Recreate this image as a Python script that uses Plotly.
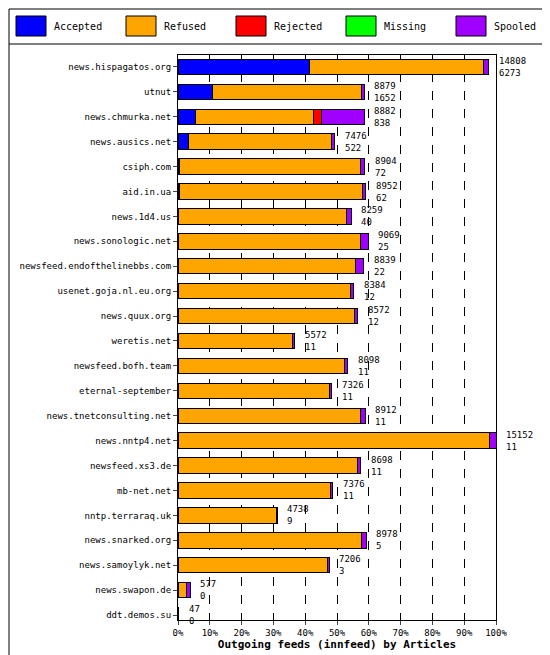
import plotly.graph_objects as go

hosts = ["news.hispagatos.org","utnut","news.chmurka.net","news.ausics.net","csiph.com","aid.in.ua",
         "news.1d4.us","news.sonologic.net","newsfeed.endofthelinebbs.com","usenet.goja.nl.eu.org",
         "news.quux.org","weretis.net","newsfeed.bofh.team","eternal-september","news.tnetconsulting.net",
         "news.nntp4.net","newsfeed.xs3.de","mb-net.net","nntp.terraraq.uk","news.snarked.org",
         "news.samoylyk.net","news.swapon.de","ddt.demos.su"]
offered  = [14808,8879,8882,7476,8904,8952,8259,9069,8839,8384,8572,5572,8098,7326,8912,15152,8698,7376,4738,8978,7206,577,47]
accepted = [6273,1652,838,522,72,62,40,25,22,12,12,11,11,11,11,11,11,11,9,5,3,0,0]
rejected = [0,0,380,0,0,0,0,0,0,0,0,0,0,0,0,0,0,0,0,0,0,0,0]
missing  = [0]*23
spooled  = [250,150,2030,150,230,150,230,380,380,150,150,100,150,100,230,330,150,100,60,250,100,150,0]
refused  = [o-a-r-m-s for o,a,r,m,s in zip(offered,accepted,rejected,missing,spooled)]
series_names = ["Accepted","Refused","Rejected","Missing","Spooled"]
series_colors = ["#0000ff","#ffa500","#ff0000","#00ff00","#a000ff"]

mx = max(offered)
pct = lambda v: [x/mx*100 for x in v]
font = "DejaVu Sans Mono"
L, R, T, B = 170, 62, 47, 43
PW, PH = 550 - L - R, 655 - T - B

fig = go.Figure()
for name, vals, col in zip(series_names, [accepted, refused, rejected, missing, spooled], series_colors):
    fig.add_trace(go.Bar(y=hosts, x=pct(vals), name=name, orientation="h", showlegend=False,
                         marker=dict(color=col, line=dict(color="black", width=1)), width=0.62))

annotations = []
for p, h, o, a in zip(pct(offered), hosts, offered, accepted):
    for txt, ys in ((str(o), 6), (str(a), -6)):
        annotations.append(dict(x=p, y=h, xref="x", yref="y", text=txt, showarrow=False,
                                xanchor="left", yanchor="middle", xshift=8, yshift=ys,
                                font=dict(family=font, size=9, color="black")))
shapes = []
for i, (n, c) in enumerate(zip(series_names, series_colors)):
    x0 = 8 + 110 * i
    shapes.append(dict(type="rect", xref="paper", yref="paper",
                       x0=(x0 - L)/PW, x1=(x0 + 30 - L)/PW, y0=1+(T-28)/PH, y1=1+(T-8)/PH,
                       fillcolor=c, line=dict(color="black", width=1)))
    annotations.append(dict(x=(x0 + 36 - L)/PW, y=1+(T-18)/PH, xref="paper", yref="paper", text=n,
                            showarrow=False, xanchor="left", yanchor="middle",
                            font=dict(family=font, size=10, color="black")))

shapes += [dict(type="rect", xref="paper", yref="paper", x0=-(L-1)/PW, x1=1+(R-1)/PW, y0=-(B-1)/PH, y1=1+(T-1)/PH,
                line=dict(color="black", width=1)),
           dict(type="line", xref="paper", yref="paper", x0=-(L-1)/PW, x1=1+(R-1)/PW, y0=1+11/PH, y1=1+11/PH,
                line=dict(color="black", width=1))]

fig.update_layout(
    width=550, height=655, barmode="stack", plot_bgcolor="white", paper_bgcolor="white",
    margin=dict(l=L, r=R, t=T, b=B, autoexpand=False),
    font=dict(family=font, size=10, color="black"),
    annotations=annotations, shapes=shapes,
    xaxis=dict(range=[0,100], tickvals=list(range(0,101,10)), ticktext=[f"{v}%" for v in range(0,101,10)],
               showgrid=True, gridcolor="black", griddash="dash", gridwidth=1,
               showline=True, linecolor="black", mirror=True, ticks="outside", ticklen=4,
               tickfont=dict(family=font, size=9),
               title=dict(text="<b>Outgoing feeds (innfeed) by Articles</b>", standoff=2,
                          font=dict(family=font, size=11))),
    yaxis=dict(range=[22.2, -0.48], showline=True, linecolor="black", mirror=True, ticks="outside",
               ticklen=4, tickfont=dict(family=font, size=9)),
)
fig.write_html("out.html")
